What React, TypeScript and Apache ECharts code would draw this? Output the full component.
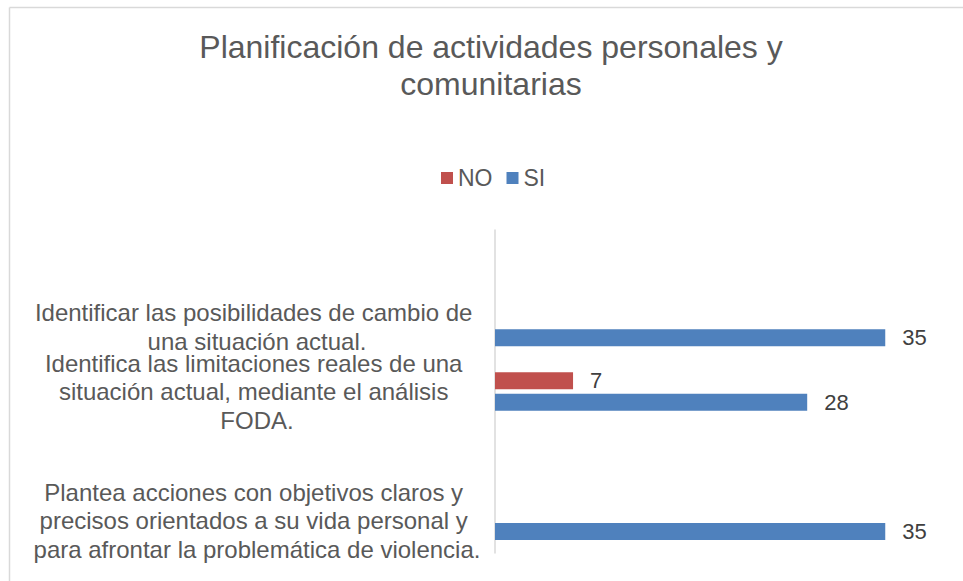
import React, { useEffect, useRef } from "react";
import * as echarts from "echarts";

const titleText = "Planificación de actividades personales y\ncomunitarias";
const seriesNames = ["NO", "SI"];
// bottom to top (empty categories are blank rows of the original sheet)
const categories = [
  "Plantea acciones con objetivos claros y precisos orientados a su vida personal y para afrontar la problemática de violencia.",
  "",
  "Identifica las limitaciones reales de una situación actual, mediante el análisis FODA.",
  "Identificar las posibilidades de cambio de una situación actual.",
  "",
];
const noValues = [null, null, 7, null, null];
const siValues = [35, null, 28, 35, null];
const colors = ["#C0504D", "#4F81BD"];
const xMax = 40;

const FONT = "'Liberation Sans', Arial, sans-serif";

export default function App() {
  const ref = useRef<HTMLDivElement>(null);
  useEffect(() => {
    if (!ref.current) return;
    const chart = echarts.init(ref.current, undefined, { renderer: "svg" });
    const valueLabel = {
      show: true,
      position: "right",
      distance: 17,
      color: "#404040",
      fontSize: 22,
      fontFamily: FONT,
    };
    chart.setOption({
      animation: false,
      backgroundColor: "#ffffff",
      textStyle: { fontFamily: FONT },
      title: {
        text: titleText,
        left: 491,
        textAlign: "center",
        top: 28,
        padding: 0,
        textStyle: {
          fontSize: 32,
          lineHeight: 37,
          fontWeight: "normal",
          color: "#595959",
          fontFamily: FONT,
        },
      },
      legend: {
        data: seriesNames,
        left: 436,
        top: 161,
        icon: "rect",
        itemWidth: 12,
        itemHeight: 12,
        itemGap: 14,
        textStyle: {
          fontSize: 23,
          lineHeight: 24,
          color: "#595959",
          fontFamily: FONT,
        },
      },
      grid: { left: 495, right: 22, top: 230, bottom: 28, containLabel: false },
      xAxis: {
        type: "value",
        min: 0,
        max: xMax,
        show: false,
      },
      yAxis: {
        type: "category",
        data: categories,
        axisLine: { show: true, lineStyle: { color: "#d9d9d9", width: 1.5 } },
        axisTick: { show: false },
        splitLine: { show: false },
        axisLabel: {
          margin: 238,
          align: "center",
          width: 458,
          overflow: "break",
          fontSize: 24,
          lineHeight: 28.5,
          color: "#595959",
          fontFamily: FONT,
        },
      },
      series: [
        {
          name: seriesNames[0],
          type: "bar",
          data: noValues,
          barWidth: 17,
          barGap: "27%",
          itemStyle: { color: colors[0] },
          label: valueLabel,
        },
        {
          name: seriesNames[1],
          type: "bar",
          data: siValues,
          barWidth: 17,
          barGap: "27%",
          itemStyle: { color: colors[1] },
          label: valueLabel,
        },
      ],
      graphic: [
        {
          type: "line",
          shape: { x1: 9.5, y1: 7.5, x2: 963, y2: 7.5 },
          style: { stroke: "#d9d9d9", lineWidth: 1.5 },
          silent: true,
        },
        {
          type: "line",
          shape: { x1: 9.5, y1: 7.5, x2: 9.5, y2: 581 },
          style: { stroke: "#d9d9d9", lineWidth: 1.5 },
          silent: true,
        },
      ],
    });
    return () => chart.dispose();
  }, []);
  return (
    <div
      ref={ref}
      style={{ position: "absolute", left: 0, top: 0, width: 963, height: 581 }}
    />
  );
}
